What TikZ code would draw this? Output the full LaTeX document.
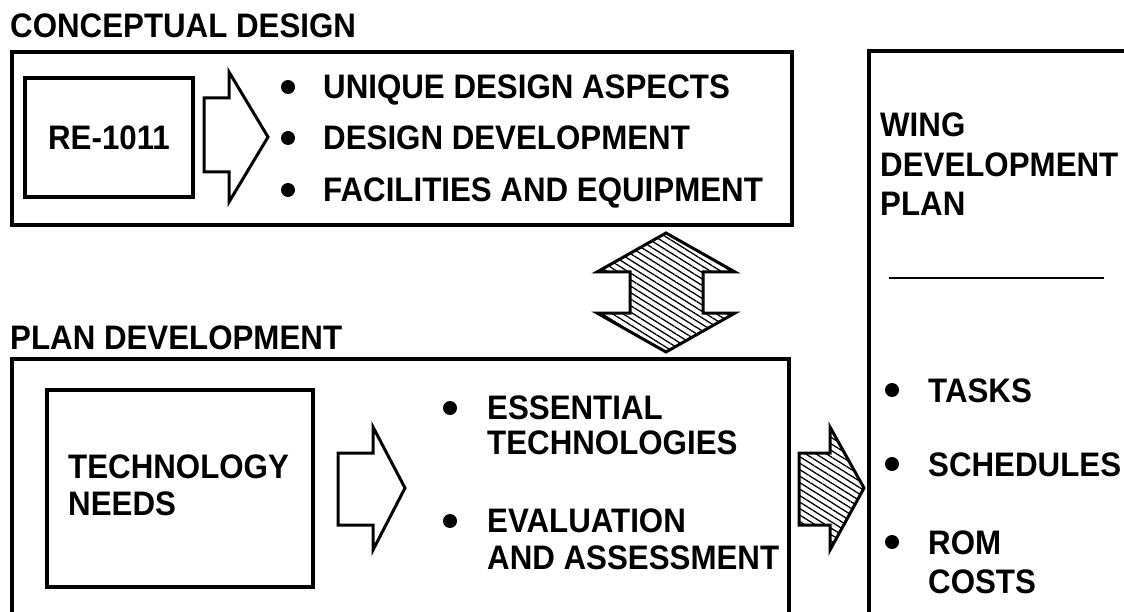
\documentclass[tikz,border=0pt]{standalone}
\usepackage{fontspec}
\setmainfont{Liberation Sans}[FakeStretch=0.92]
\usetikzlibrary{patterns.meta}

\tikzset{
    word/.style={font=\bfseries\fontsize{34}{40}\selectfont, anchor=west, inner sep=0pt, text height=24pt, text depth=0pt},
    frame/.style={draw, line width=3.5pt},
    dot/.style={circle, fill, inner sep=0pt, minimum size=14pt},
    hollow/.style={draw, line width=3pt, line join=miter},
    hatched/.style={draw, line width=3pt, line join=miter, pattern={Lines[angle=-32, distance=5.5pt, line width=1.3pt]}}
}

\begin{document}
\begin{tikzpicture}[x=1pt, y=-1pt]
    \useasboundingbox (0,0) rectangle (1124,612);
    \clip (0,0) rectangle (1124,612);

    % Headings
    \node[word] (concepthead) at (10,26) {CONCEPTUAL DESIGN};
    \node[word] (planhead) at (10,337) {PLAN DEVELOPMENT};

    % Conceptual design
    \draw[frame] (12,52) rectangle (792,225);
    \node[frame, word, anchor=center, minimum width=168pt, minimum height=119pt] (re) at (109,137.5) {RE-1011};
    \draw[hollow] (204,98) -- (229,98) -- (229,72) -- (268,137) -- (229,202) -- (229,172) -- (204,172) -- cycle;
    \foreach \y/\t [count=\i] in {87/UNIQUE DESIGN ASPECTS, 138/DESIGN DEVELOPMENT, 190/FACILITIES AND EQUIPMENT} {
        \node[dot] (cdot\i) at (288,\y) {};
        \node[word] (citem\i) at (323,\y) {\t};
    }

    % Link between the two
    \draw[hatched] (666,233) -- (735,272) -- (703,272) -- (703,313) -- (735,313) -- (666,352)
        -- (597,313) -- (630,313) -- (630,272) -- (597,272) -- cycle;

    % Plan development
    \draw[frame] (12,630) -- (12,359) -- (789,359) -- (789,630);
    \node[frame, minimum width=266pt, minimum height=197pt] (needs) at (180,488.5) {};
    \node[word] (needs1) at (68,466) {TECHNOLOGY};
    \node[word] (needs2) at (68,503) {NEEDS};
    \draw[hollow] (338,453) -- (373,453) -- (373,427) -- (405,488) -- (373,550) -- (373,525) -- (338,525) -- cycle;
    \node[dot] (pdot1) at (450,408) {};
    \node[word] (pitem1) at (487,407) {ESSENTIAL};
    \node[word] (pitem1b) at (487,442) {TECHNOLOGIES};
    \node[dot] (pdot2) at (450,521) {};
    \node[word] (pitem2) at (487,520) {EVALUATION};
    \node[word] (pitem2b) at (487,557) {AND ASSESSMENT};

    % Output to the plan
    \draw[hatched] (799,453) -- (830,453) -- (830,427) -- (864,488) -- (830,550) -- (830,525) -- (799,525) -- cycle;

    % Wing development plan
    \draw[frame] (869,630) -- (869,51) -- (1140,51);
    \node[word] (wing1) at (880,125) {WING};
    \node[word] (wing2) at (880,165) {DEVELOPMENT};
    \node[word] (wing3) at (880,204) {PLAN};
    \draw[line width=2.5pt] (889,278) -- (1104,278);
    \foreach \y/\t [count=\i] in {390/TASKS, 464/SCHEDULES, 542/ROM} {
        \node[dot] (wdot\i) at (892,\y) {};
        \node[word] (witem\i) at (928,\y) {\t};
    }
    \node[word] (witem3b) at (928,581) {COSTS};
\end{tikzpicture}
\end{document}
